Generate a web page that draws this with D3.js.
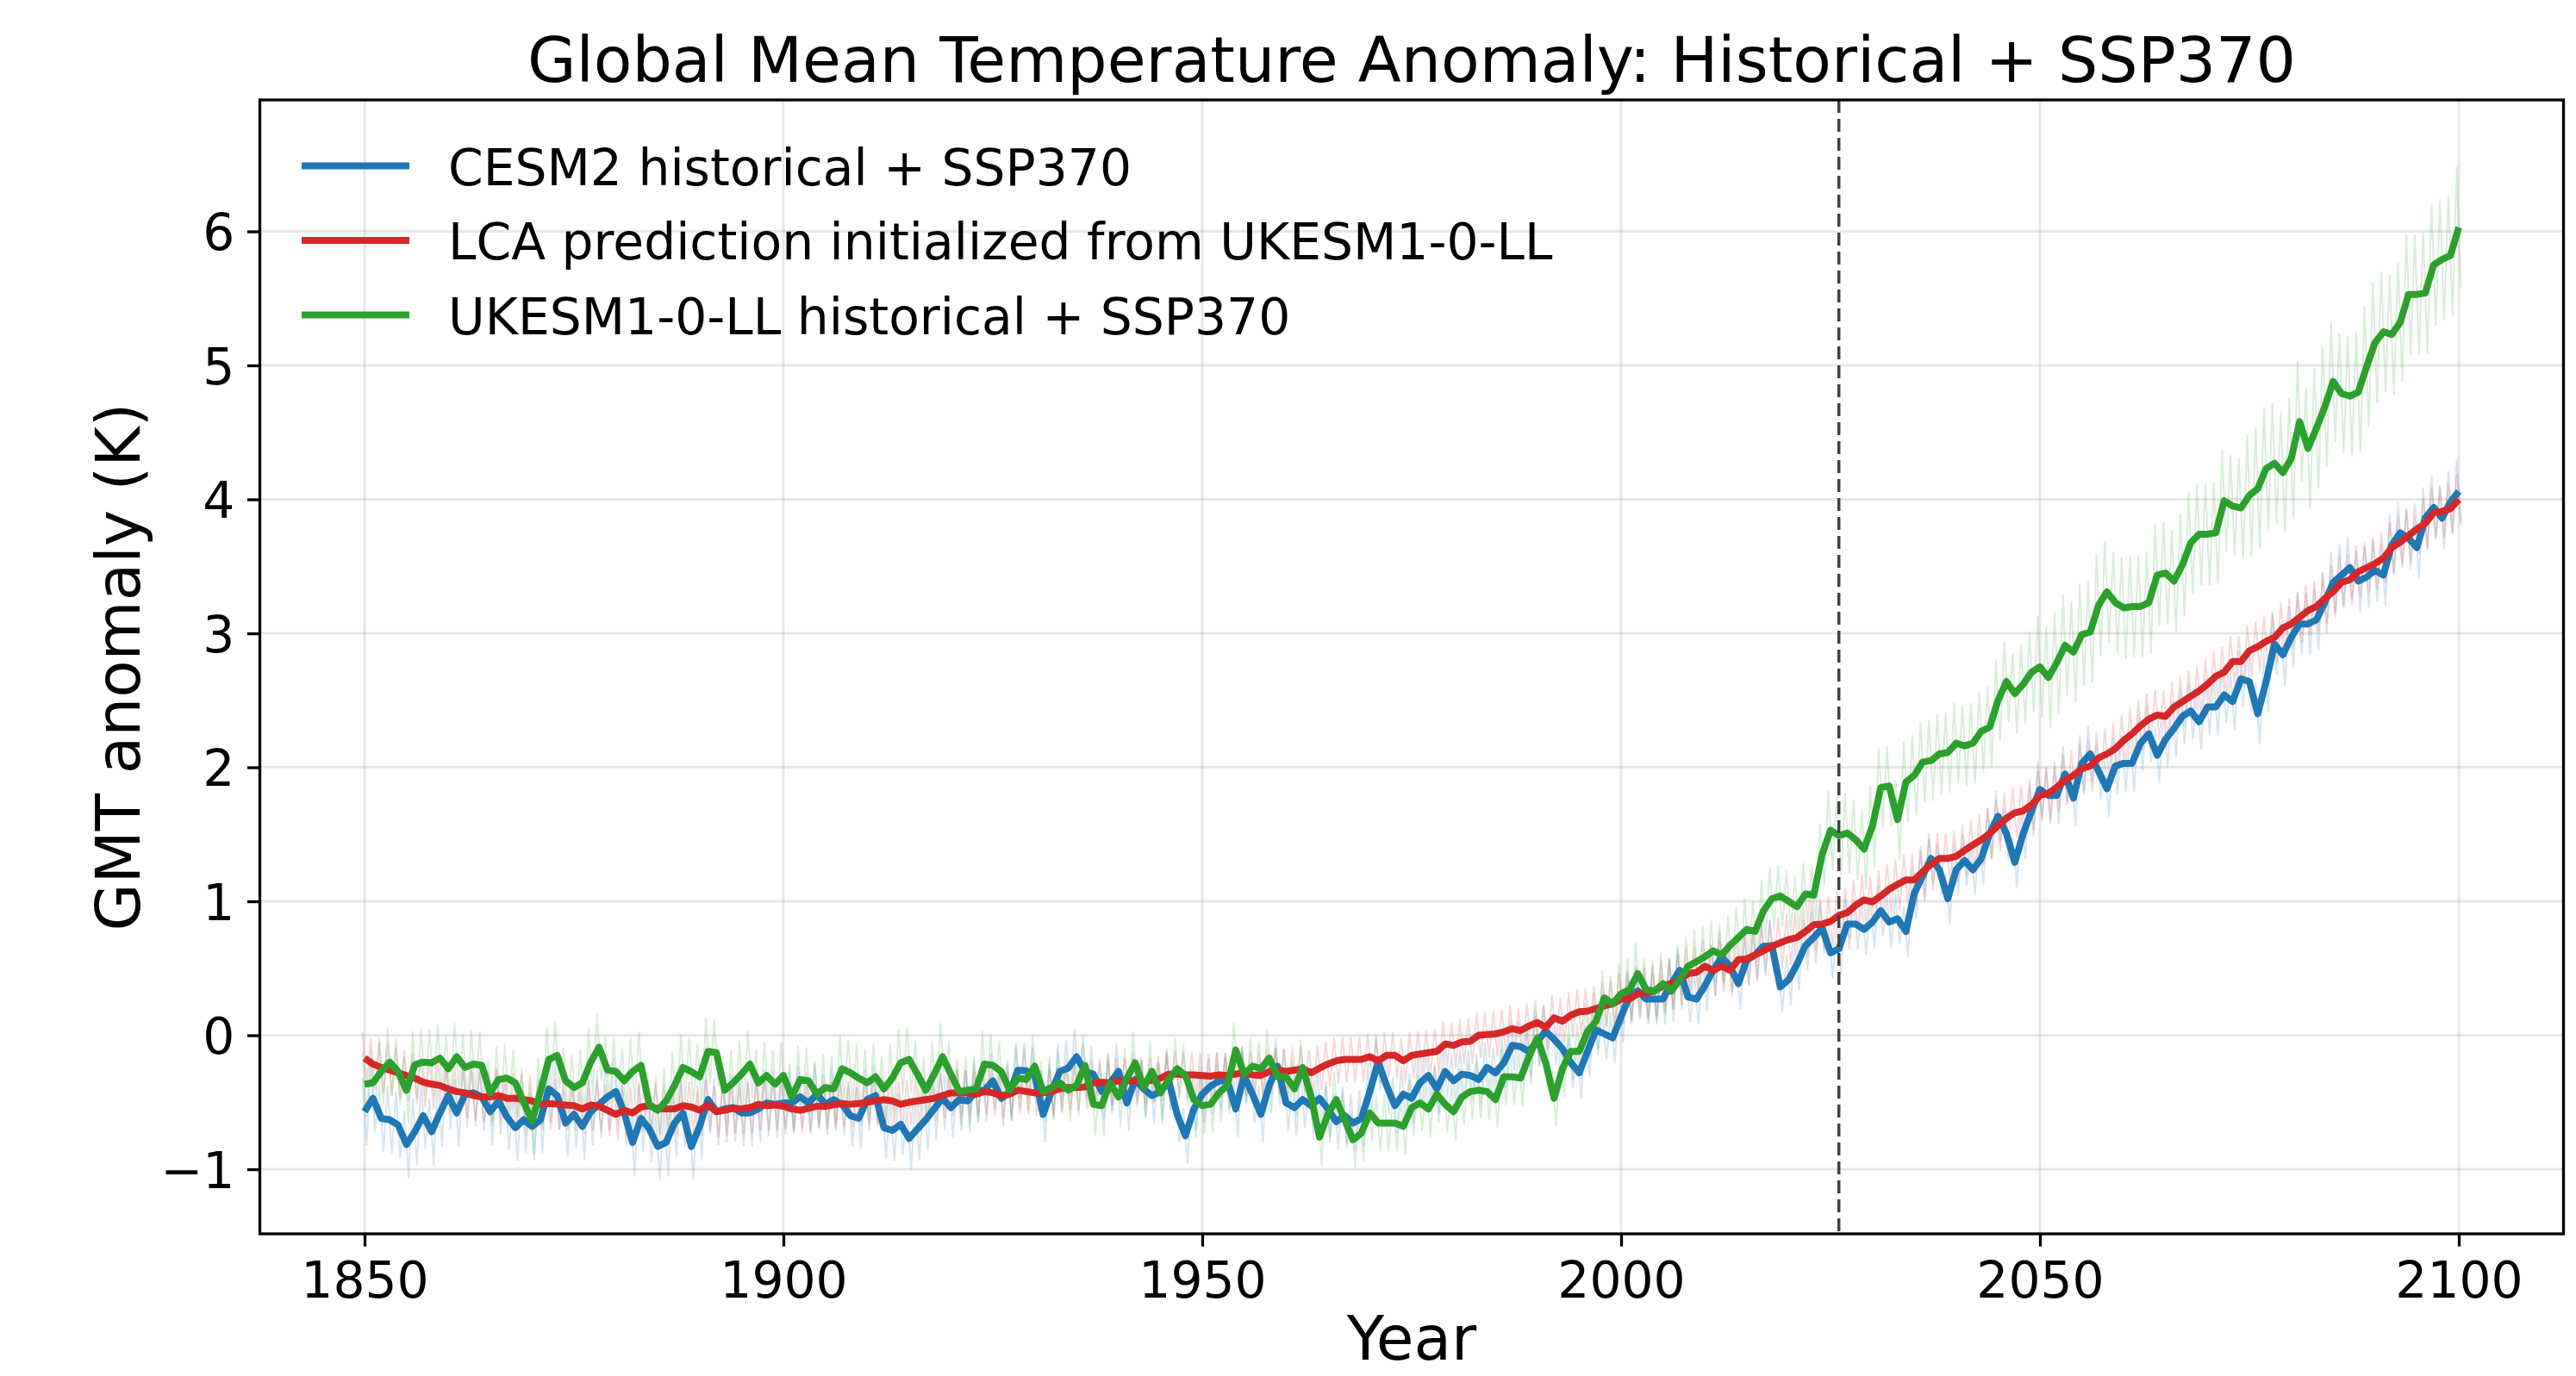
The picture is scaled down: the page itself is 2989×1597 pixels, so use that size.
<!DOCTYPE html>
<html>
<head>
<meta charset="utf-8">
<script src="https://cdn.jsdelivr.net/npm/d3@7"></script>
<style>
  html, body { margin: 0; padding: 0; background: #fff; }
  svg { display: block; font-family: "DejaVu Sans", sans-serif; }
</style>
</head>
<body>
<svg id="chart" width="2989" height="1597"></svg>
<script>
const WIDTH = 2989;
const HEIGHT = 1597;
const LEFT = 301.5;
const RIGHT = 2974.5;
const TOP = 116;
const BOTTOM = 1432;
const LINE_WIDTH = 8;
const TICK_FONT = 58.3;
const LABEL_FONT = 71;
const TITLE_FONT = 73;

const title = "Global Mean Temperature Anomaly: Historical + SSP370";
const xLabel = "Year";
const yLabel = "GMT anomaly (K)";
const xTicks = [1850, 1900, 1950, 2000, 2050, 2100];
const yTicks = [-1, 0, 1, 2, 3, 4, 5, 6];
const splitYear = 2026;

const seriesNames = [
  "CESM2 historical + SSP370",
  "LCA prediction initialized from UKESM1-0-LL",
  "UKESM1-0-LL historical + SSP370",
];
const seriesColors = ["#1f77b4", "#d62728", "#2ca02c"];

const years = d3.range(1850, 2101);

// annual means, 1850..2100 (one row per decade)
const cesm2 = [
  -0.57, -0.47, -0.62, -0.63, -0.67, -0.815, -0.72, -0.6, -0.72, -0.58,
  -0.45, -0.58, -0.44, -0.43, -0.46, -0.57, -0.49, -0.61, -0.69, -0.63,
  -0.68, -0.63, -0.4, -0.45, -0.655, -0.59, -0.68, -0.57, -0.515, -0.46,
  -0.42, -0.58, -0.8, -0.62, -0.7, -0.83, -0.8, -0.655, -0.58, -0.83,
  -0.68, -0.48, -0.57, -0.55, -0.54, -0.58, -0.58, -0.55, -0.505, -0.515,
  -0.505, -0.505, -0.46, -0.505, -0.44, -0.515, -0.48, -0.515, -0.6, -0.62,
  -0.48, -0.45, -0.69, -0.71, -0.665, -0.77, -0.7, -0.63, -0.55, -0.47,
  -0.54, -0.48, -0.49, -0.42, -0.41, -0.34, -0.47, -0.43, -0.26, -0.265,
  -0.3, -0.59, -0.42, -0.27, -0.245, -0.16, -0.27, -0.29, -0.42, -0.355,
  -0.27, -0.505, -0.33, -0.4, -0.45, -0.42, -0.34, -0.59, -0.75, -0.55,
  -0.44, -0.38, -0.34, -0.34, -0.55, -0.3, -0.44, -0.59, -0.375, -0.23,
  -0.505, -0.54, -0.48, -0.525, -0.47, -0.55, -0.645, -0.6, -0.655, -0.62,
  -0.42, -0.2, -0.375, -0.525, -0.44, -0.47, -0.355, -0.3, -0.4, -0.27,
  -0.34, -0.29, -0.3, -0.33, -0.24, -0.28, -0.205, -0.075, -0.085, -0.12,
  -0.045, 0.03, -0.03, -0.1, -0.205, -0.28, -0.12, 0.04, 0.01, -0.02,
  0.14, 0.29, 0.33, 0.27, 0.27, 0.27, 0.385, 0.485, 0.285, 0.27,
  0.37, 0.485, 0.585, 0.515, 0.385, 0.56, 0.6, 0.665, 0.67, 0.36,
  0.415, 0.53, 0.67, 0.73, 0.8, 0.615, 0.645, 0.83, 0.83, 0.79,
  0.845, 0.93, 0.845, 0.87, 0.775, 1.06, 1.19, 1.32, 1.235, 1.02,
  1.235, 1.305, 1.235, 1.32, 1.505, 1.635, 1.505, 1.29, 1.505, 1.675,
  1.835, 1.79, 1.79, 1.95, 1.77, 2.03, 2.1, 1.97, 1.84, 2.01,
  2.03, 2.03, 2.18, 2.25, 2.09, 2.21, 2.29, 2.38, 2.42, 2.34,
  2.45, 2.45, 2.54, 2.49, 2.66, 2.64, 2.4, 2.64, 2.92, 2.84,
  2.97, 3.07, 3.07, 3.1, 3.23, 3.38, 3.435, 3.49, 3.39, 3.42,
  3.47, 3.435, 3.66, 3.75, 3.71, 3.64, 3.86, 3.94, 3.86, 3.98,
  4.06,
];

const lca = [
  -0.17, -0.215, -0.24, -0.26, -0.28, -0.3, -0.32, -0.35, -0.365, -0.375,
  -0.4, -0.42, -0.43, -0.45, -0.46, -0.46, -0.45, -0.47, -0.47, -0.48,
  -0.49, -0.515, -0.51, -0.515, -0.52, -0.525, -0.55, -0.52, -0.53, -0.56,
  -0.59, -0.56, -0.58, -0.535, -0.525, -0.55, -0.55, -0.55, -0.525, -0.535,
  -0.56, -0.52, -0.57, -0.56, -0.545, -0.55, -0.54, -0.515, -0.525, -0.52,
  -0.53, -0.55, -0.56, -0.545, -0.53, -0.53, -0.52, -0.51, -0.515, -0.51,
  -0.5, -0.49, -0.48, -0.49, -0.515, -0.5, -0.49, -0.48, -0.47, -0.45,
  -0.43, -0.43, -0.43, -0.44, -0.42, -0.43, -0.45, -0.44, -0.41, -0.42,
  -0.43, -0.43, -0.42, -0.4, -0.39, -0.39, -0.385, -0.355, -0.35, -0.355,
  -0.34, -0.34, -0.34, -0.35, -0.335, -0.32, -0.29, -0.29, -0.295, -0.295,
  -0.3, -0.305, -0.295, -0.3, -0.29, -0.28, -0.295, -0.3, -0.27, -0.26,
  -0.27, -0.26, -0.25, -0.28, -0.245, -0.215, -0.19, -0.18, -0.18, -0.18,
  -0.16, -0.19, -0.15, -0.15, -0.19, -0.15, -0.14, -0.13, -0.12, -0.065,
  -0.075, -0.05, -0.045, 0.0, 0.005, 0.01, 0.025, 0.05, 0.035, 0.07,
  0.095, 0.06, 0.13, 0.105, 0.15, 0.175, 0.18, 0.2, 0.22, 0.235,
  0.27, 0.27, 0.31, 0.315, 0.33, 0.37, 0.385, 0.415, 0.46, 0.47,
  0.515, 0.485, 0.515, 0.485, 0.565, 0.57, 0.6, 0.63, 0.665, 0.69,
  0.715, 0.73, 0.775, 0.825, 0.83, 0.85, 0.895, 0.915, 0.97, 1.01,
  0.995, 1.04, 1.09, 1.125, 1.16, 1.16, 1.22, 1.275, 1.32, 1.32,
  1.335, 1.38, 1.42, 1.46, 1.505, 1.565, 1.62, 1.66, 1.675, 1.72,
  1.79, 1.805, 1.85, 1.905, 1.94, 1.99, 2.01, 2.07, 2.1, 2.14,
  2.2, 2.25, 2.31, 2.36, 2.39, 2.38, 2.45, 2.49, 2.53, 2.57,
  2.62, 2.68, 2.71, 2.79, 2.79, 2.87, 2.9, 2.94, 2.97, 3.04,
  3.07, 3.12, 3.17, 3.2, 3.26, 3.31, 3.38, 3.4, 3.46, 3.49,
  3.52, 3.56, 3.64, 3.68, 3.73, 3.78, 3.82, 3.9, 3.91, 3.93,
  4.0,
];

const ukesm = [
  -0.365, -0.355, -0.27, -0.2, -0.27, -0.41, -0.22, -0.2, -0.205, -0.17,
  -0.25, -0.16, -0.24, -0.215, -0.225, -0.43, -0.33, -0.32, -0.355, -0.5,
  -0.64, -0.42, -0.18, -0.15, -0.34, -0.39, -0.355, -0.2, -0.09, -0.26,
  -0.27, -0.34, -0.27, -0.225, -0.52, -0.56, -0.49, -0.375, -0.24, -0.27,
  -0.31, -0.12, -0.13, -0.41, -0.355, -0.29, -0.215, -0.355, -0.3, -0.365,
  -0.3, -0.46, -0.33, -0.34, -0.44, -0.39, -0.4, -0.25, -0.28, -0.32,
  -0.355, -0.31, -0.4, -0.32, -0.205, -0.18, -0.29, -0.41, -0.29, -0.16,
  -0.29, -0.42, -0.41, -0.4, -0.215, -0.225, -0.27, -0.41, -0.32, -0.33,
  -0.23, -0.42, -0.39, -0.355, -0.41, -0.375, -0.225, -0.515, -0.525, -0.355,
  -0.46, -0.32, -0.205, -0.39, -0.27, -0.43, -0.33, -0.25, -0.3, -0.48,
  -0.525, -0.515, -0.43, -0.375, -0.11, -0.29, -0.23, -0.25, -0.17, -0.31,
  -0.31, -0.4, -0.24, -0.46, -0.76, -0.59, -0.48, -0.63, -0.78, -0.73,
  -0.58, -0.655, -0.655, -0.655, -0.68, -0.54, -0.505, -0.55, -0.44, -0.515,
  -0.57, -0.46, -0.42, -0.41, -0.42, -0.48, -0.31, -0.31, -0.32, -0.16,
  -0.02, -0.205, -0.47, -0.25, -0.12, -0.12, 0.03, 0.105, 0.28, 0.235,
  0.31, 0.34, 0.46, 0.34, 0.33, 0.385, 0.33, 0.415, 0.515, 0.55,
  0.585, 0.63, 0.6, 0.67, 0.73, 0.79, 0.775, 0.93, 1.02, 1.04,
  1.0, 0.96, 1.055, 1.045, 1.35, 1.53, 1.49, 1.51, 1.46, 1.39,
  1.56, 1.85, 1.86, 1.61, 1.89, 1.94, 2.04, 2.05, 2.1, 2.11,
  2.18, 2.16, 2.18, 2.27, 2.3, 2.5, 2.64, 2.55, 2.62, 2.71,
  2.75, 2.67, 2.78, 2.91, 2.86, 2.99, 3.01, 3.21, 3.31, 3.23,
  3.19, 3.2, 3.2, 3.23, 3.435, 3.45, 3.39, 3.51, 3.675, 3.74,
  3.74, 3.75, 3.99, 3.95, 3.935, 4.03, 4.08, 4.23, 4.27, 4.2,
  4.305, 4.58, 4.38, 4.53, 4.69, 4.88, 4.79, 4.77, 4.8, 4.99,
  5.17, 5.25, 5.23, 5.32, 5.53, 5.53, 5.54, 5.75, 5.79, 5.82,
  6.03,
];

// half-width of the faint monthly wiggle, per 25-year block starting 1850
const spreadStarts = [1850, 1875, 1900, 1925, 1950, 1975, 2000, 2025, 2050, 2075];
const cesm2Spread = [0.25, 0.25, 0.23, 0.21, 0.21, 0.19, 0.19, 0.19, 0.21, 0.23];
const lcaSpread = [0.19, 0.19, 0.17, 0.17, 0.17, 0.17, 0.19, 0.19, 0.19, 0.19];
const ukesmSpread = [0.25, 0.25, 0.25, 0.23, 0.21, 0.21, 0.23, 0.3, 0.38, 0.45];

const series = [
  { name: seriesNames[0], color: seriesColors[0], values: cesm2, spread: cesm2Spread },
  { name: seriesNames[1], color: seriesColors[1], values: lca, spread: lcaSpread },
  { name: seriesNames[2], color: seriesColors[2], values: ukesm, spread: ukesmSpread },
];

const svg = d3.select("#chart");

const x = d3.scaleLinear().domain([1837.5, 2112.5]).range([LEFT, RIGHT]);
const y = d3.scaleLinear().domain([-1.482, 6.981]).range([BOTTOM, TOP]);

// grid
const grid = svg.append("g").attr("class", "grid");
grid
  .selectAll(".gx")
  .data(xTicks)
  .enter()
  .append("line")
  .attr("x1", (d) => x(d))
  .attr("x2", (d) => x(d))
  .attr("y1", TOP)
  .attr("y2", BOTTOM)
  .attr("stroke", "#b0b0b0")
  .attr("stroke-opacity", 0.3)
  .attr("stroke-width", 3);
grid
  .selectAll(".gy")
  .data(yTicks)
  .enter()
  .append("line")
  .attr("x1", LEFT)
  .attr("x2", RIGHT)
  .attr("y1", (d) => y(d))
  .attr("y2", (d) => y(d))
  .attr("stroke", "#b0b0b0")
  .attr("stroke-opacity", 0.3)
  .attr("stroke-width", 3);

const plot = svg.append("g").attr("class", "plot");

const spreadFor = (s, year) => {
  const i = d3.bisectRight(spreadStarts, year) - 1;
  return s.spread[Math.max(0, i)];
};

// faint monthly-looking wiggle around each annual value
const faintLine = d3.line().x((d) => x(d[0])).y((d) => y(d[1]));
series.forEach((s) => {
  const pts = [];
  years.forEach((yr, i) => {
    const sp = spreadFor(s, yr);
    pts.push([yr - 0.25, s.values[i] + sp]);
    pts.push([yr + 0.25, s.values[i] - sp]);
  });
  plot
    .append("path")
    .attr("d", faintLine(pts))
    .attr("fill", "none")
    .attr("stroke", s.color)
    .attr("stroke-opacity", 0.18)
    .attr("stroke-width", 2);
});

const line = d3
  .line()
  .x((d, i) => x(years[i]))
  .y((d) => y(d));

series.forEach((s) => {
  plot
    .append("path")
    .attr("d", line(s.values))
    .attr("fill", "none")
    .attr("stroke", s.color)
    .attr("stroke-width", LINE_WIDTH)
    .attr("stroke-linejoin", "round");
});

// forecast start marker
svg
  .append("line")
  .attr("x1", x(splitYear))
  .attr("x2", x(splitYear))
  .attr("y1", TOP)
  .attr("y2", BOTTOM)
  .attr("stroke", "#404040")
  .attr("stroke-width", 3.5)
  .attr("stroke-dasharray", "15,7");

// axes
const fmt = (d) => (d < 0 ? "\u2212" + Math.abs(d) : String(d));

const xAxis = svg
  .append("g")
  .attr("transform", `translate(0,${BOTTOM})`)
  .call(d3.axisBottom(x).tickValues(xTicks).tickSize(14.6).tickPadding(14.6).tickFormat(fmt));
const yAxis = svg
  .append("g")
  .attr("transform", `translate(${LEFT},0)`)
  .call(d3.axisLeft(y).tickValues(yTicks).tickSize(14.6).tickPadding(14.6).tickFormat(fmt));

[xAxis, yAxis].forEach((a) => {
  a.select(".domain").remove();
  a.selectAll(".tick line").attr("stroke", "#000").attr("stroke-width", 3.3);
  a.selectAll(".tick text")
    .attr("fill", "#000")
    .attr("font-family", "DejaVu Sans")
    .attr("font-size", TICK_FONT);
});
yAxis.selectAll(".tick text").attr("dy", "0.36em");
xAxis.selectAll(".tick text").attr("dy", "0.76em");

svg
  .append("rect")
  .attr("x", LEFT)
  .attr("y", TOP)
  .attr("width", RIGHT - LEFT)
  .attr("height", BOTTOM - TOP)
  .attr("fill", "none")
  .attr("stroke", "#000")
  .attr("stroke-width", 3.3);

// text
svg
  .append("text")
  .attr("x", (LEFT + RIGHT) / 2)
  .attr("y", 95)
  .attr("text-anchor", "middle")
  .attr("font-size", TITLE_FONT)
  .text(title);

svg
  .append("text")
  .attr("x", (LEFT + RIGHT) / 2)
  .attr("y", 1578)
  .attr("text-anchor", "middle")
  .attr("font-size", LABEL_FONT)
  .text(xLabel);

svg
  .append("text")
  .attr("transform", `translate(162,${(TOP + BOTTOM) / 2}) rotate(-90)`)
  .attr("text-anchor", "middle")
  .attr("font-size", LABEL_FONT)
  .text(yLabel);

// legend
const legend = svg.append("g").attr("transform", "translate(350,192.5)");
const rows = legend
  .selectAll(".row")
  .data(series)
  .enter()
  .append("g")
  .attr("transform", (d, i) => `translate(0,${i * 86.5})`);
rows
  .append("line")
  .attr("x1", 0)
  .attr("x2", 125)
  .attr("stroke", (d) => d.color)
  .attr("stroke-width", 8);
rows
  .append("text")
  .attr("x", 170)
  .attr("y", 22)
  .attr("font-size", TICK_FONT)
  .text((d) => d.name);
</script>
</body>
</html>
